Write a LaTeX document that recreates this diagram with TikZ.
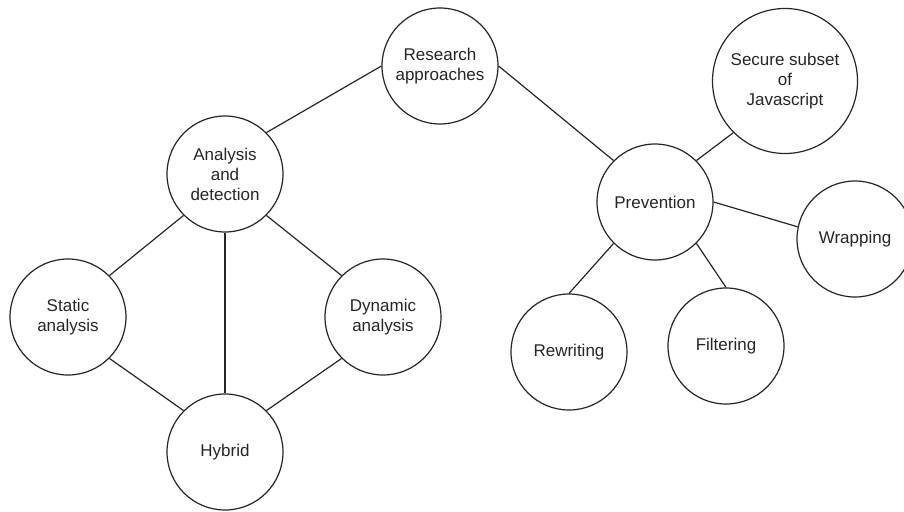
\documentclass[tikz,border=0pt]{standalone}
\usepackage{fontspec}
\setmainfont{Liberation Sans}
\begin{document}
\begin{tikzpicture}[x=1pt,y=-1pt,
  topic/.style={circle,draw=black!85,line width=1.2pt,fill=white,
    minimum size=116pt,inner sep=0pt,align=center,text=black!85,
    font=\fontsize{17}{20}\selectfont},
  link/.style={draw=black!85,line width=1.2pt}]
\useasboundingbox (0,0) rectangle (904,511);

% topic circles
\node[topic] (res) at (440,66) {Research\\approaches};
\node[topic] (ana) at (225,174) {Analysis\\and\\detection};
\node[topic] (sta) at (68,317) {Static\\analysis};
\node[topic] (dyn) at (383,317) {Dynamic\\analysis};
\node[topic] (hyb) at (225,452) {Hybrid};
\node[topic] (pre) at (655,202) {Prevention};
\node[topic,minimum size=145pt] (sec) at (785,81) {Secure subset\\of\\Javascript};
\node[topic] (wra) at (855,239) {Wrapping};
\node[topic] (rew) at (569,352) {Rewriting};
\node[topic] (fil) at (726,346) {Filtering};

% connectors
\draw[link] (res.west) -- (ana.north east);
\draw[link] (res.east) -- (pre.north west);
\draw[link] (ana.south west) -- (sta.north east);
\draw[link] (ana.south east) -- (dyn.north west);
\draw[link] (ana.south) -- (hyb.north);
\draw[link] (sta.south east) -- (hyb.north west);
\draw[link] (dyn.south west) -- (hyb.north east);
\draw[link] (pre.north east) -- (sec.south west);
\draw[link] (pre.east) -- (wra.168);
\draw[link] (pre.south west) -- (rew.north);
\draw[link] (pre.south east) -- (fil.north);
\end{tikzpicture}
\end{document}
